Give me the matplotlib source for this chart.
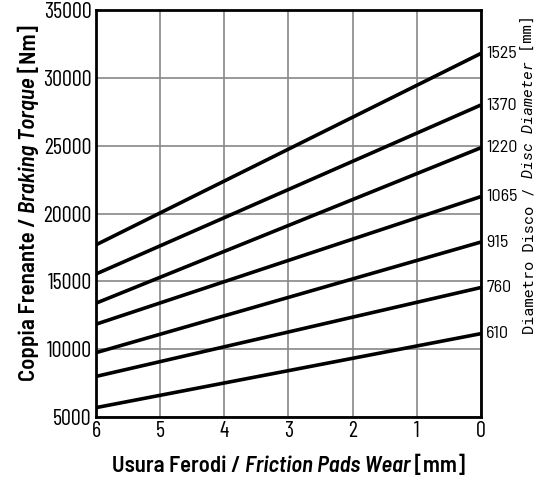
import matplotlib
matplotlib.use("Agg")
import matplotlib.pyplot as plt

#%% Data
wear = [6, 0]  # friction pad wear [mm]
diameters = ["610", "760", "915", "1065", "1220", "1370", "1525"]
torque_wear6 = [5700, 8000, 9750, 11850, 13400, 15550, 17700]
torque_wear0 = [11150, 14550, 17900, 21250, 24850, 28000, 31800]
xticks = [6, 5, 4, 3, 2, 1, 0]
yticks = [5000, 10000, 15000, 20000, 25000, 30000, 35000]

plt.rcParams['font.family'] = ['Barlow Condensed', 'DejaVu Sans']
label_font = ['Barlow Semi Condensed', 'DejaVu Sans']
side_font = ['Roboto Mono', 'DejaVu Sans Mono']

#%% Plot
fig = plt.figure(figsize=(5.52, 4.8), dpi=100)
ax = fig.add_axes([0.174, 0.131, 0.697, 0.848])

for lab, t6, t0 in zip(diameters, torque_wear6, torque_wear0):
    ax.plot(wear, [t6, t0], color="black", lw=2.6, solid_capstyle="butt")
    ax.annotate(lab, xy=(0, t0), xytext=(4, 0), textcoords="offset points",
                ha="left", va="center", fontsize=13, family=label_font,
                annotation_clip=False)

ax.set_xlim(6, 0)
ax.set_ylim(5000, 35000)
ax.set_xticks(xticks)
ax.set_yticks(yticks)
ax.tick_params(length=0, labelsize=16, pad=3)
ax.grid(True, color="#888888", lw=1.2)
for s in ax.spines.values():
    s.set_linewidth(2)


# axis titles built from pieces (mixed upright / italic)
def hchain(pieces, x, y, size, weight, family):
    t = fig.text(x, y, pieces[0][0], fontstyle=pieces[0][1], fontsize=size,
                 fontweight=weight, family=family, ha="left", va="bottom")
    for txt, style in pieces[1:]:
        t = ax.annotate(txt, xy=(1, 0), xycoords=t, ha="left", va="bottom",
                        fontstyle=style, fontsize=size, fontweight=weight,
                        family=family, annotation_clip=False)


def vchain(pieces, x, y, size, weight, family):
    t = fig.text(x, y, pieces[0][0], fontstyle=pieces[0][1], fontsize=size,
                 fontweight=weight, family=family, rotation=90,
                 ha="center", va="bottom")
    for txt, style in pieces[1:]:
        t = ax.annotate(txt, xy=(0.5, 1), xycoords=t, ha="center", va="bottom",
                        rotation=90, fontstyle=style, fontsize=size,
                        fontweight=weight, family=family, annotation_clip=False)


hchain([("Usura Ferodi / ", "normal"), ("Friction Pads Wear", "italic"), (" [mm]", "normal")],
       112 / 552, 1 - 476 / 480, 16.3, 600, label_font)
vchain([("Coppia Frenante / ", "normal"), ("Braking Torque", "italic"), (" [Nm]", "normal")],
       29 / 552, 1 - 381 / 480, 16.5, 600, label_font)
vchain([("Diametro Disco / ", "normal"), ("Disc Diameter", "italic"), (" [mm]", "normal")],
       529 / 552, 1 - 334 / 480, 11, "normal", side_font)

fig.savefig("out.png", dpi=100)
